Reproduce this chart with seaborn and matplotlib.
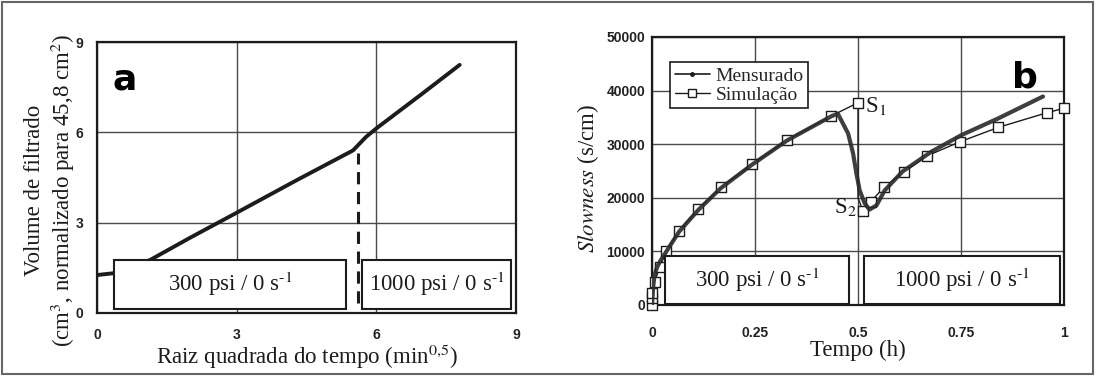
import matplotlib
matplotlib.use("Agg")
import matplotlib.pyplot as plt
import seaborn as sns
import pandas as pd
from matplotlib.patches import Rectangle
from matplotlib.lines import Line2D

# ---------------- data ----------------
# Panel a: filtrate volume vs sqrt(time)
a_x = [0.0, 0.35, 1.14, 2.0, 3.0, 4.3, 5.5, 5.78, 6.0, 7.0, 7.79]
a_y = [1.26, 1.32, 1.76, 2.5, 3.33, 4.42, 5.40, 5.85, 6.13, 7.30, 8.24]
a_xticks = [0, 3, 6, 9]
a_yticks = [0, 3, 6, 9]

# Panel b: slowness vs time
meas_x = [0.0, 0.003, 0.006, 0.012, 0.02, 0.035, 0.066, 0.112, 0.167, 0.243,
          0.328, 0.435, 0.451, 0.476, 0.488, 0.496, 0.504, 0.516, 0.528,
          0.545, 0.565, 0.608, 0.678, 0.751, 0.840, 0.949]
meas_y = [0, 3500, 5500, 7000, 8200, 10000, 13700, 17700, 21800, 26200,
          30700, 35200, 35700, 32000, 28300, 24600, 21400, 19000, 17800,
          18600, 21400, 24900, 28600, 31700, 34800, 38900]
sim_x = [0.0, 0.0, 0.0, 0.0065, 0.019, 0.035, 0.066, 0.112, 0.167, 0.243,
         0.328, 0.435, 0.5, 0.5, 0.512, 0.531, 0.563, 0.612, 0.667, 0.748,
         0.841, 0.959, 1.0]
sim_y = [0, 1250, 2300, 4350, 7150, 10130, 13870, 17850, 21950, 26250,
         30780, 35260, 37740, 20000, 17590, 19280, 21950, 24870, 27800, 30470,
         33150, 35880, 36700]
sim_marker = [True, True, True, True, True, True, True, True, True, True,
              True, True, True, False, True, True, True, True, True, True,
              True, True, True]
b_xticks = [0, 0.25, 0.5, 0.75, 1]
b_xticklabels = ["0", "0.25", "0.5", "0.75", "1"]
b_yticks = [0, 10000, 20000, 30000, 40000, 50000]

box_a_text = ["300 psi / 0 s$^{\u2010 1}$", "1000 psi / 0 s$^{\u2010 1}$"]
box_b_text = ["300 psi / 0 s$^{\u2010 1}$", "1000 psi / 0 s$^{\u2010 1}$"]

# ---------------- style ----------------
sns.set_style("white")
plt.rcParams["font.family"] = ["Liberation Serif", "DejaVu Serif"]
plt.rcParams["mathtext.fontset"] = "stix"

INK = "#1c1c1c"
GRID = "#4a4a4a"
tickfont = dict(family="Liberation Sans", weight="bold", size=10, color="#222")
LBL = 16.5

fig = plt.figure(figsize=(10.96, 3.76), dpi=100)
fig.patches.append(Rectangle((0.002, 0.006), 0.995, 0.988, transform=fig.transFigure,
                             fill=False, edgecolor="#666", lw=1.5))

W, H = 1096, 376
def ax_rect(l, r, t, b):
    return [l / W, 1 - b / H, (r - l) / W, (b - t) / H]

# ---------------- panel a ----------------
axa = fig.add_axes(ax_rect(97, 516, 42, 313))
dfa = pd.DataFrame({"x": a_x, "y": a_y})
sns.lineplot(data=dfa, x="x", y="y", ax=axa, color=INK, lw=2.8, sort=False,
             estimator=None, zorder=3)
axa.set_xlim(0, 9)
axa.set_ylim(0, 9)
axa.set_xticks(a_xticks)
axa.set_yticks(a_yticks)
axa.set_xticklabels([str(v) for v in a_xticks], fontdict=tickfont)
axa.set_yticklabels([str(v) for v in a_yticks], fontdict=tickfont)
axa.tick_params(axis="x", length=0, pad=11)
axa.tick_params(axis="y", length=0, pad=10)
axa.grid(True, color=GRID, lw=1.0)
for s in axa.spines.values():
    s.set_color(INK); s.set_linewidth(1.6)
axa.set_xlabel("Raiz quadrada do tempo (min$^{0{,}5}$)", fontsize=LBL, color=INK, labelpad=0)
axa.set_ylabel("")
fig.text(35 / W, 1 - 190 / H, "Volume de filtrado", rotation=90, ha="center",
         va="center", fontsize=LBL, color=INK)
fig.text(63 / W, 1 - 190 / H, "(cm$^3$, normalizado para 45,8 cm$^2$)", rotation=90,
         ha="center", va="center", fontsize=LBL, color=INK)
# boxes
for (x0, x1), txt in zip([(0.37, 5.35), (5.7, 8.9)], box_a_text):
    axa.add_patch(Rectangle((x0, 0.13), x1 - x0, 1.63, facecolor="white",
                            edgecolor=INK, lw=1.5, zorder=4))
    axa.text((x0 + x1) / 2, 0.95, txt, ha="center", va="center", fontsize=LBL,
             color=INK, zorder=5)
axa.plot([5.6, 5.6], [0.33, 5.3], color=INK, lw=2.2, ls=(0, (4, 2.5)), zorder=5)
axa.text(0.6, 7.75, "a", fontsize=26, weight="bold", family="DejaVu Sans",
         ha="center", va="center", color="black")

# ---------------- panel b ----------------
axb = fig.add_axes(ax_rect(652, 1064, 37, 305))
dfm = pd.DataFrame({"x": meas_x, "y": meas_y})
dfs = pd.DataFrame({"x": sim_x, "y": sim_y})
sns.lineplot(data=dfs, x="x", y="y", ax=axb, color=INK, lw=1.0, sort=False,
             estimator=None, zorder=3)
dfs_m = dfs[sim_marker]
sns.scatterplot(data=dfs_m, x="x", y="y", ax=axb, marker="s", s=42,
                facecolor="white", edgecolor=INK, linewidth=1.0, zorder=4,
                clip_on=False)
sns.lineplot(data=dfm, x="x", y="y", ax=axb, color="#2a2a2a", lw=3.0, sort=False,
             estimator=None, zorder=5, alpha=0.9)
axb.set_xlim(0, 1)
axb.set_ylim(0, 50000)
axb.set_xticks(b_xticks)
axb.set_yticks(b_yticks)
axb.set_xticklabels(b_xticklabels, fontdict=tickfont)
axb.set_yticklabels([str(v) for v in b_yticks], fontdict=tickfont)
axb.tick_params(axis="x", length=0, pad=15)
axb.tick_params(axis="y", length=0, pad=5)
axb.grid(True, color=GRID, lw=1.0)
for s in axb.spines.values():
    s.set_color(INK); s.set_linewidth(1.6)
axb.set_xlabel("Tempo (h)", fontsize=LBL, color=INK, labelpad=0)
axb.set_ylabel("")
fig.text(588 / W, 1 - 178 / H, "$\\mathit{Slowness}$ (s/cm)", rotation=90,
         ha="center", va="center", fontsize=LBL, color=INK)
for (x0, x1), txt in zip([(0.032, 0.479), (0.515, 0.99)], box_b_text):
    axb.add_patch(Rectangle((x0, 200), x1 - x0, 8900, facecolor="white",
                            edgecolor=INK, lw=1.5, zorder=6))
    axb.text((x0 + x1) / 2, 4700, txt, ha="center", va="center", fontsize=LBL,
             color=INK, zorder=7)
axb.text(0.518, 37200, "S$_1$", fontsize=LBL, ha="left", va="center", color=INK)
axb.text(0.496, 18300, "S$_2$", fontsize=LBL, ha="right", va="center", color=INK)
axb.text(0.905, 42500, "b", fontsize=26, weight="bold", family="DejaVu Sans",
         ha="center", va="center", color="black")
handles = [Line2D([], [], color=INK, lw=1.2, marker="o", markersize=2.5),
           Line2D([], [], color=INK, lw=1.0, marker="s", markersize=6,
                  markerfacecolor="white")]
leg = axb.legend(handles, ["Mensurado", "Simulação"], loc="upper left",
                 bbox_to_anchor=(0.043, 0.905), fontsize=14, frameon=True,
                 fancybox=False, edgecolor=INK, framealpha=1, borderpad=0.25,
                 handlelength=1.8, handletextpad=0.3, labelspacing=0.05,
                 borderaxespad=0)
leg.get_frame().set_linewidth(1.2)
leg.set_zorder(8)

fig.savefig("out.png", dpi=100)
